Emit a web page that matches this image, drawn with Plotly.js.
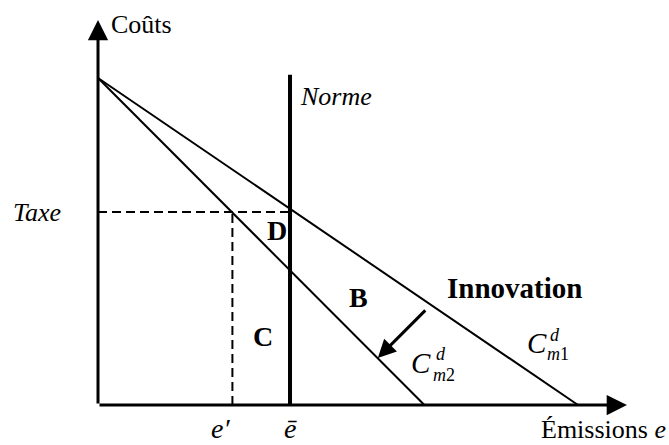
<!DOCTYPE html>
<html>
<head>
<meta charset="utf-8">
<script src="https://cdn.plot.ly/plotly-3.0.1.min.js"></script>
<style>
  html, body { margin: 0; padding: 0; background: #fff; }
  #chart { width: 669px; height: 445px; }
</style>
</head>
<body>
<div id="chart"></div>
<script>
// marginal abatement cost curves (emissions e, costs)
const emissionsCm1 = [0, 100];
const costsCm1 = [100, 0];
const emissionsCm2 = [0, 68];
const costsCm2 = [100, 0];

const normeLevel = 40;   // e-bar
const normeTop = 101;
const taxeLevel = 59;
const ePrime = 28;

const axisTipX = 110.2;
const axisTipY = 117.7;

// innovation arrow: from Cm1 side towards Cm2
const innovFrom = [68.5, 29.4];
const innovTo = [58.3, 14.4];

const serif = "Liberation Serif, Times New Roman, serif";
const black = "#000";
const yBottom = -12.23;

const thinLine = (x, y) => ({
  x, y,
  type: "scatter",
  mode: "lines",
  hoverinfo: "skip",
  line: { color: black, width: 2 }
});

const traces = [
  thinLine(emissionsCm1, costsCm1),
  thinLine(emissionsCm2, costsCm2),
  {
    x: [normeLevel, normeLevel],
    y: [0, normeTop],
    type: "scatter",
    mode: "lines",
    hoverinfo: "skip",
    line: { color: black, width: 4 }
  },
  {
    x: [0, normeLevel],
    y: [taxeLevel, taxeLevel],
    type: "scatter",
    mode: "lines",
    hoverinfo: "skip",
    line: { color: black, width: 2, dash: "9px,5px" }
  },
  {
    x: [ePrime, ePrime],
    y: [0, taxeLevel],
    type: "scatter",
    mode: "lines",
    hoverinfo: "skip",
    line: { color: black, width: 2, dash: "9px,5px" }
  }
];

const arrow = (from, to, width, size) => ({
  x: to[0],
  y: to[1],
  ax: from[0],
  ay: from[1],
  xref: "x",
  yref: "y",
  axref: "x",
  ayref: "y",
  text: "",
  showarrow: true,
  arrowhead: 2,
  arrowwidth: width,
  arrowsize: size,
  arrowcolor: black,
  standoff: 0,
  startstandoff: 0
});

const label = (text, x, y, size, xanchor, extra) => ({
  text,
  x,
  y,
  xref: "x",
  yref: "y",
  showarrow: false,
  xanchor: xanchor || "center",
  yanchor: "middle",
  font: { family: serif, size, color: black },
  ...(extra || {})
});

// labels under the x axis sit on the bottom edge
const bottom = { yanchor: "bottom", borderpad: 0 };

const annotations = [
  arrow([0, 0], [axisTipX, 0], 3, 1.35),
  arrow([0, 0], [0, axisTipY], 3, 1.35),
  arrow(innovFrom, innovTo, 3, 1.2),

  label("Coûts", 2.3, 116.5, 26, "left"),
  label("<i>Norme</i>", 41.7, 94.3, 26, "left"),
  label("<i>Taxe</i>", -7.3, taxeLevel, 26, "right"),
  label("<b>D</b>", 37.3, 53.3, 28),
  label("<b>B</b>", 54.3, 32.9, 28),
  label("<b>C</b>", 34.4, 20.8, 28),
  label("<b>Innovation</b>", 86.8, 35.8, 29),

  label("<i>C</i>", 91.5, 19.0, 29),
  label("<i>d</i>", 95.2, 21.4, 18),
  label("<i>m</i>1", 95.8, 15.6, 18),

  label("<i>C</i>", 67.3, 12.8, 29),
  label("<i>d</i>", 71.5, 15.6, 18),
  label("<i>m</i>2", 72.1, 9.2, 18),

  label("<i>e′</i>", 25.6, yBottom, 28, "center", bottom),
  label("<i>ē</i>", 40.1, yBottom, 28, "center", bottom),
  label("Émissions <i>e</i>", 118.5, yBottom, 26, "right", bottom)
];

const layout = {
  width: 669,
  height: 445,
  margin: { l: 0, r: 0, t: 0, b: 0, pad: 0 },
  showlegend: false,
  paper_bgcolor: "#fff",
  plot_bgcolor: "#fff",
  font: { family: serif, color: black },
  xaxis: {
    range: [-20.42, 118.96],
    visible: false,
    fixedrange: true
  },
  yaxis: {
    range: [yBottom, 123.85],
    visible: false,
    fixedrange: true
  },
  annotations
};

const config = {
  displayModeBar: false,
  staticPlot: true
};

Plotly.newPlot("chart", traces, layout, config);
</script>
</body>
</html>
